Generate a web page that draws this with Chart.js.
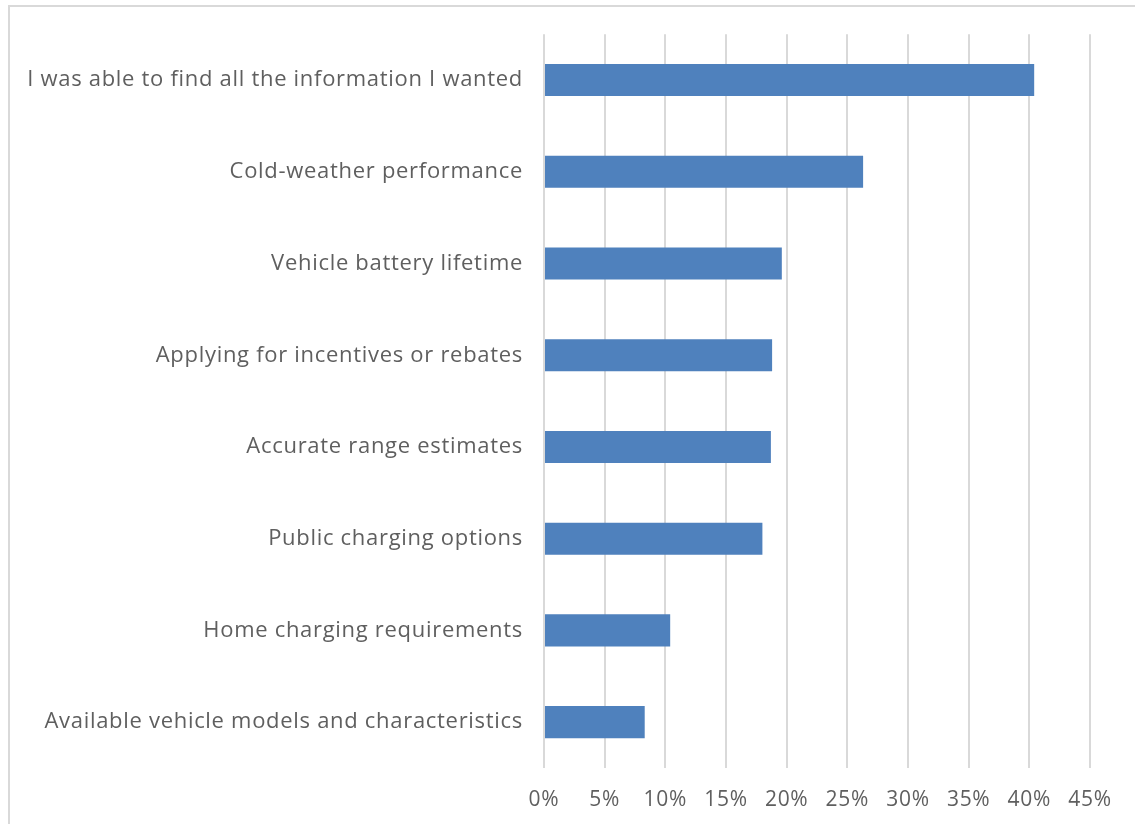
<!DOCTYPE html>
<html>
<head>
<meta charset="utf-8">
<script src="https://cdn.jsdelivr.net/npm/chart.js@4/dist/chart.umd.min.js"></script>
<style>
  body { margin: 0; background: #fff; }
  .frame { position: absolute; left: 8px; top: 5px; width: 1140px; height: 830px;
    border-left: 2px solid #d9d9d9; border-top: 2px solid #d9d9d9; }
  .wrap { position: absolute; left: 0; top: 0; width: 1135px; height: 824px; }
</style>
</head>
<body>
<div class="frame"></div>
<div class="wrap"><canvas id="barChart"></canvas></div>
<script>
const categories = [
  "I was able to find all the information I wanted",
  "Cold-weather performance",
  "Vehicle battery lifetime",
  "Applying for incentives or rebates",
  "Accurate range estimates",
  "Public charging options",
  "Home charging requirements",
  "Available vehicle models and characteristics"
]
const shares = [40.4, 26.3, 19.6, 18.8, 18.7, 18.0, 10.4, 8.3]
const tickMax = 45
const tickStep = 5

const textColor = "#5f5f5f"
const fontFamily = "'Open Sans', Lato, sans-serif"

// the original font is wider, so space the letters a little
const letterSpacingPlugin = {
  id: "letterSpacing",
  beforeDraw: chart => { chart.ctx.letterSpacing = "0.7px" },
  afterDraw: chart => { chart.ctx.letterSpacing = "0px" }
}

function barChart(){
  const data = {
    labels: categories,
    datasets: [{
      data: shares,
      backgroundColor: "#4F81BD",
      borderWidth: 0,
      categoryPercentage: 1,
      barPercentage: 0.35
    }]
  }
  const config = {
    type: "bar",
    data: data,
    plugins: [letterSpacingPlugin],
    options: {
      indexAxis: "y",
      responsive: true,
      maintainAspectRatio: false,
      animation: false,
      layout: { padding: { top: 34, right: 45, bottom: 0, left: 0 } },
      plugins: { legend: { display: false }, tooltip: { enabled: false } },
      scales: {
        x: {
          min: 0,
          max: tickMax,
          ticks: {
            stepSize: tickStep,
            color: textColor,
            padding: 19,
            font: { family: fontFamily, size: 21 },
            callback: v => v + "%"
          },
          grid: { color: "#d9d9d9", lineWidth: 2, drawTicks: false },
          border: { display: false },
          afterFit: scale => { scale.height = 56 }
        },
        y: {
          ticks: {
            color: textColor,
            padding: 21,
            font: { family: fontFamily, size: 22 }
          },
          grid: { display: false, drawTicks: false },
          border: { display: false },
          afterFit: scale => { scale.width = 544 }
        }
      }
    }
  }
  new Chart(document.querySelector("#barChart").getContext("2d"), config)
}

barChart()
</script>
</body>
</html>
